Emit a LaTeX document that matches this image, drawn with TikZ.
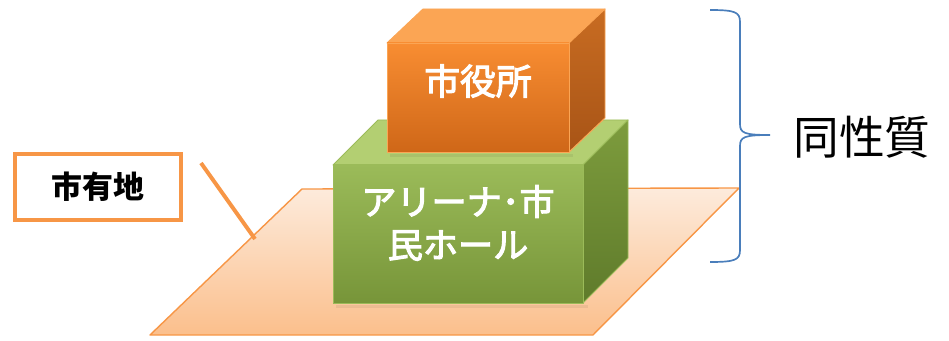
\documentclass[tikz,border=0pt]{standalone}
\usepackage{fontspec}
\newfontfamily\jpfont{Noto Sans CJK JP}
\newfontfamily\jpmid[FakeBold=3]{Noto Sans CJK JP}
\usetikzlibrary{positioning}
\definecolor{landorange}{HTML}{F79646}
\definecolor{groundtop}{HTML}{FDEBDC}
\definecolor{groundbot}{HTML}{FBBF8C}
\definecolor{greentop}{HTML}{B3CF72}
\definecolor{greenfront}{HTML}{9BBB59}
\definecolor{greenlow}{HTML}{779539}
\definecolor{greenside}{HTML}{7D9C3D}
\definecolor{greendark}{HTML}{5F7B2B}
\definecolor{orangetop}{HTML}{FBA554}
\definecolor{orangefront}{HTML}{F88D32}
\definecolor{orangelow}{HTML}{CF6718}
\definecolor{orangeside}{HTML}{C86C22}
\definecolor{orangedark}{HTML}{A85416}
\definecolor{braceblue}{HTML}{4A7EBB}

\begin{document}
\begin{tikzpicture}[
        x=0.025cm,y=-0.025cm,
        boxedge/.style={line width=0.7pt,line join=round},
        whitetext/.style={font=\jpmid\fontsize{25}{30.6}\selectfont,text=white,align=center},
        ]
  \useasboundingbox (0,0) rectangle (949,341);

  % ground (parallelogram)
  \coordinate (g_tl) at (302,189);
  \coordinate (g_tr) at (739,188);
  \coordinate (g_br) at (593,335);
  \coordinate (g_bl) at (150,335);
  \shade[top color=groundtop,bottom color=groundbot,draw=landorange,line width=1pt,line join=round]
    (g_tl) -- (g_tr) -- (g_br) -- (g_bl) -- cycle;

  % arena box
  \coordinate (a_fl) at (333,165);
  \coordinate (a_fr) at (583,165);
  \coordinate (a_br) at (583,303);
  \coordinate (a_bl) at (333,303);
  \coordinate (a_kl) at (378,120);
  \coordinate (a_kr) at (628,120);
  \coordinate (a_kb) at (628,258);
  \fill[black,opacity=0.06] (336,305) rectangle (588,308);
  \fill[greentop,draw=greenfront,boxedge] (a_fl) -- (a_kl) -- (a_kr) -- (a_fr) -- cycle;
  \shade[top color=greenside,bottom color=greendark,draw=greenfront,boxedge] (a_fr) -- (a_kr) -- (a_kb) -- (a_br) -- cycle;
  \shade[top color=greenfront,bottom color=greenlow,draw=greenfront,boxedge] (a_fl) -- (a_fr) -- (a_br) -- (a_bl) -- cycle;
  \node[whitetext] (arena) at (458,223) {アリーナ･市\\民ホール};

  % city hall box
  \coordinate (c_fl) at (387,43);
  \coordinate (c_fr) at (569,43);
  \coordinate (c_br) at (569,152);
  \coordinate (c_bl) at (387,152);
  \coordinate (c_kl) at (423,9);
  \coordinate (c_kr) at (605,9);
  \coordinate (c_kb) at (605,118);
  \fill[black,opacity=0.06] (390,154) rectangle (573,157);
  \fill[orangetop,draw=orangetop,boxedge] (c_fl) -- (c_kl) -- (c_kr) -- (c_fr) -- cycle;
  \shade[top color=orangeside,bottom color=orangedark,draw=orangetop,boxedge] (c_fr) -- (c_kr) -- (c_kb) -- (c_br) -- cycle;
  \shade[top color=orangefront,bottom color=orangelow,draw=orangetop,boxedge] (c_fl) -- (c_fr) -- (c_br) -- (c_bl) -- cycle;
  \node[whitetext,font=\jpmid\fontsize{25.5}{30}\selectfont] (hall) at (478,81) {市役所};

  % land label
  \node[draw=landorange,line width=2.8pt,fill=white,minimum width=4.15cm,minimum height=1.65cm,
        font=\jpfont\bfseries\fontsize{22}{26}\selectfont] (land) at (98,187) {市有地};
  \coordinate (lead_a) at (201,163);
  \coordinate (lead_b) at (255,239);
  \draw[landorange,line width=2.8pt] (lead_a) -- (lead_b);

  % brace
  \draw[braceblue,line width=1.2pt]
    (710,10) .. controls (735,10) and (740,12) .. (740,22) -- (740,124)
    .. controls (740,133) and (744,135) .. (770,135)
    .. controls (744,135) and (740,137) .. (740,146) -- (740,250)
    .. controls (740,260) and (735,262) .. (710,262);
  \node[font=\jpfont\fontsize{32.5}{38}\selectfont] (same) at (862,137) {同性質};
\end{tikzpicture}
\end{document}
